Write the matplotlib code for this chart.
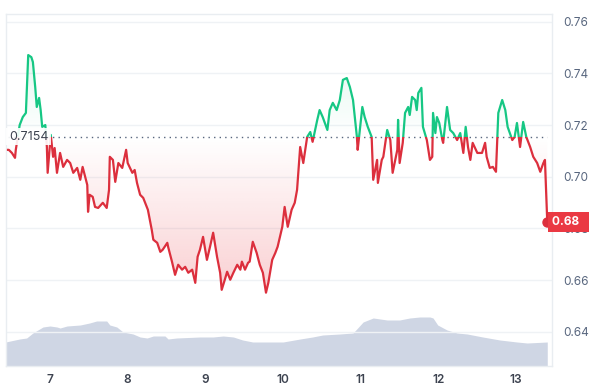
import numpy as np
import matplotlib
matplotlib.use("Agg")
import matplotlib.pyplot as plt
from matplotlib.patches import Rectangle

plt.rcParams['font.family'] = ['Inter', 'DejaVu Sans']

# price series (day of month, price)
t = [6.46, 6.47, 6.51, 6.55, 6.56, 6.61, 6.65, 6.69, 6.72, 6.76, 6.78, 6.81, 6.83, 6.86, 6.88, 6.90,
     6.94, 6.96, 6.97, 7.01, 7.04, 7.06, 7.09, 7.13, 7.17, 7.22, 7.26, 7.30, 7.35, 7.39, 7.42, 7.48,
     7.49, 7.51, 7.55, 7.58, 7.62, 7.68, 7.73, 7.76, 7.77, 7.81, 7.84, 7.88, 7.93, 7.98, 8.00, 8.06,
     8.09, 8.12, 8.16, 8.20, 8.26, 8.31, 8.33, 8.38, 8.42, 8.45, 8.51, 8.52, 8.57, 8.61, 8.65, 8.70,
     8.74, 8.78, 8.83, 8.87, 8.90, 8.93, 8.97, 9.02, 9.06, 9.10, 9.15, 9.19, 9.21, 9.25, 9.28, 9.32,
     9.36, 9.41, 9.45, 9.47, 9.51, 9.55, 9.57, 9.61, 9.66, 9.70, 9.74, 9.78, 9.81, 9.86, 9.90, 9.93,
     9.99, 10.02, 10.06, 10.11, 10.15, 10.18, 10.22, 10.26, 10.31, 10.35, 10.38, 10.44, 10.47, 10.51,
     10.57, 10.60, 10.64, 10.69, 10.73, 10.77, 10.82, 10.86, 10.90, 10.95, 10.96, 11.02, 11.05, 11.09,
     11.14, 11.16, 11.21, 11.22, 11.27, 11.29, 11.34, 11.38, 11.41, 11.47, 11.48, 11.50, 11.54, 11.57,
     11.61, 11.63, 11.66, 11.70, 11.72, 11.74, 11.78, 11.80, 11.85, 11.89, 11.92, 11.93, 11.96, 11.98,
     12.01, 12.05, 12.06, 12.11, 12.15, 12.19, 12.24, 12.28, 12.32, 12.35, 12.38, 12.41, 12.44, 12.50,
     12.56, 12.60, 12.62, 12.66, 12.70, 12.74, 12.77, 12.82, 12.86, 12.89, 12.95, 12.98, 13.01, 13.05,
     13.09, 13.13, 13.18, 13.22, 13.27, 13.31, 13.35, 13.37, 13.39, 13.40]
price = [0.7104, 0.7104, 0.7092, 0.7073, 0.7104, 0.7200, 0.7231, 0.7247, 0.7471, 0.7463, 0.7444, 0.7347,
         0.7270, 0.7305, 0.7258, 0.7193, 0.7200, 0.7115, 0.7015, 0.7162, 0.7077, 0.7111, 0.7015, 0.7092,
         0.7038, 0.7065, 0.7053, 0.7015, 0.7034, 0.6988, 0.7038, 0.6968, 0.6864, 0.6930, 0.6922, 0.6883,
         0.6879, 0.6899, 0.6879, 0.6949, 0.7077, 0.7065, 0.6980, 0.7053, 0.7034, 0.7104, 0.7053, 0.7015,
         0.7026, 0.6976, 0.6930, 0.6918, 0.6872, 0.6794, 0.6756, 0.6744, 0.6709, 0.6717, 0.6744, 0.6729,
         0.6671, 0.6620, 0.6659, 0.6640, 0.6651, 0.6628, 0.6640, 0.6589, 0.6690, 0.6717, 0.6767, 0.6678,
         0.6729, 0.6783, 0.6690, 0.6628, 0.6562, 0.6601, 0.6632, 0.6601, 0.6628, 0.6659, 0.6640, 0.6671,
         0.6640, 0.6667, 0.6671, 0.6748, 0.6705, 0.6659, 0.6628, 0.6551, 0.6589, 0.6678, 0.6705, 0.6729,
         0.6806, 0.6883, 0.6806, 0.6872, 0.6899, 0.6949, 0.7115, 0.7053, 0.7154, 0.7173, 0.7135, 0.7220,
         0.7258, 0.7231, 0.7181, 0.7258, 0.7286, 0.7258, 0.7297, 0.7375, 0.7382, 0.7347, 0.7297, 0.7154,
         0.7104, 0.7270, 0.7231, 0.7193, 0.7154, 0.6988, 0.7065, 0.6976, 0.7065, 0.7077, 0.7181, 0.7142,
         0.7015, 0.7104, 0.7220, 0.7053, 0.7131, 0.7247, 0.7270, 0.7239, 0.7309, 0.7297, 0.7258, 0.7324,
         0.7344, 0.7193, 0.7142, 0.7065, 0.7077, 0.7247, 0.7169, 0.7231, 0.7208, 0.7142, 0.7131, 0.7270,
         0.7181, 0.7169, 0.7142, 0.7169, 0.7092, 0.7193, 0.7115, 0.7065, 0.7131, 0.7092, 0.7092, 0.7131,
         0.7077, 0.7034, 0.7038, 0.7019, 0.7247, 0.7297, 0.7258, 0.7193, 0.7142, 0.7154, 0.7208, 0.7115,
         0.7212, 0.7154, 0.7115, 0.7077, 0.7053, 0.7019, 0.7053, 0.7065, 0.6910, 0.6825]

# volume (relative units)
vol_t = [6.43, 6.61, 6.70, 6.78, 6.91, 7.00, 7.09, 7.13, 7.22, 7.39, 7.51, 7.60, 7.73, 7.77, 7.86,
         7.94, 8.07, 8.16, 8.25, 8.33, 8.48, 8.52, 8.63, 8.93, 9.10, 9.23, 9.36, 9.48, 9.61, 9.79,
         10.00, 10.22, 10.38, 10.51, 10.73, 10.90, 10.96, 11.03, 11.16, 11.34, 11.50, 11.63, 11.76,
         11.89, 11.93, 11.99, 12.11, 12.24, 12.37, 12.57, 12.79, 13.01, 13.14, 13.40]
vol = [24, 27, 28, 33, 39, 40, 39, 38, 40, 41, 43, 45, 45, 41, 39, 34, 32, 29, 28, 30, 30, 27, 28,
       29, 29, 30, 29, 26, 24, 24, 24, 27, 29, 31, 32, 33, 38, 44, 48, 46, 46, 48, 49, 49, 48, 41,
       36, 33, 32, 29, 26, 24, 23, 24]

base = 0.7154
yticks = [0.64, 0.66, 0.68, 0.70, 0.72, 0.74, 0.76]
xticks = [7, 8, 9, 10, 11, 12, 13]

green = '#16c784'
red = '#dc2f3d'
grid_c = '#eff2f5'

t = np.array(t)
price = np.array(price)
x0, x1 = 6.434, 13.461
y0, y1 = 0.6267, 0.7630

fig = plt.figure(figsize=(5.89, 3.87), dpi=100)
ax = fig.add_axes([6 / 589, 1 - 366 / 387, 546 / 589, 352 / 387])
ax.set_xlim(x0, x1)
ax.set_ylim(y0, y1)

# volume on its own scale
axv = ax.twinx()
axv.set_ylim(0, 352)
axv.fill_between(vol_t, vol, 0, color='#cfd6e4', lw=0, zorder=1)
axv.set_yticks([])
for s in axv.spines.values():
    s.set_visible(False)
ax.set_zorder(axv.get_zorder() + 1)
ax.patch.set_visible(False)
fig.patch.set_facecolor('white')

# gradient fills
def grad_fill(lo, hi, color, a_lo, a_hi, ylo, yhi):
    poly = ax.fill_between(t, lo, hi, facecolor='none', lw=0)
    rgb = matplotlib.colors.to_rgb(color)
    n = 200
    img = np.zeros((n, 2, 4))
    img[:, :, :3] = rgb
    img[:, :, 3] = np.linspace(a_lo, a_hi, n)[:, None]
    im = ax.imshow(img, extent=[x0, x1, ylo, yhi], origin='lower', aspect='auto',
                   zorder=1.5, interpolation='bilinear')
    im.set_clip_path(poly.get_paths()[0], transform=ax.transData)

grad_fill(np.minimum(price, base), base, '#ea3943', 0.24, 0.0, price.min(), base)
grad_fill(base, np.maximum(price, base), green, 0.0, 0.12, base, price.max())
ax.set_xlim(x0, x1)
ax.set_ylim(y0, y1)

# two-colour line
lg, = ax.plot(t, price, color=green, lw=1.6, zorder=3, solid_joinstyle='round')
lr, = ax.plot(t, price, color=red, lw=1.6, zorder=3, solid_joinstyle='round')
lg.set_clip_path(Rectangle((x0, base), x1 - x0, y1 - base, transform=ax.transData))
lr.set_clip_path(Rectangle((x0, y0), x1 - x0, base - y0, transform=ax.transData))

ax.plot(t[-1], price[-1], 'o', color=red, ms=6.5, zorder=4)

# baseline
ax.plot([t[0], t[-1]], [base, base], color='#58667e', lw=1, ls=(0, (1, 3)), zorder=2.8)
ax.text(6.47, base, '0.7154', fontsize=9, color='#3d4350', va='center', ha='left', zorder=5,
        bbox=dict(boxstyle='square,pad=0.2', fc='white', ec='none', alpha=0.9))

# axes styling
ax.yaxis.tick_right()
ax.set_yticks(yticks)
ax.set_yticklabels(['%.2f' % v for v in yticks])
ax.set_xticks(xticks)
ax.tick_params(axis='y', length=0, pad=8, labelsize=8.5, labelcolor='#58667e')
ax.tick_params(axis='x', length=0, pad=6, labelsize=8.5, labelcolor='#3d4350')
for lab in ax.get_xticklabels():
    lab.set_fontweight('semibold')
ax.grid(axis='y', color=grid_c, lw=1)
ax.set_axisbelow(True)
for s in ax.spines.values():
    s.set_color('#e9edf1')
    s.set_linewidth(1)

# current price tag
ax.text(1.0, price[-1], '0.68  ', transform=ax.get_yaxis_transform(), fontsize=8.5,
        color='white', fontweight='bold', va='center', ha='left', zorder=10, clip_on=False,
        bbox=dict(boxstyle='square,pad=0.35', fc='#ea3943', ec='none'))

fig.savefig('out.png', dpi=100, facecolor='white')
